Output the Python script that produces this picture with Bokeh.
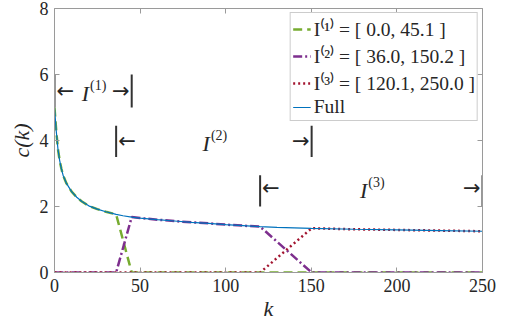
from bokeh.plotting import figure
from bokeh.models import LinearAxis, Legend, LegendItem, Range1d, FixedTicker, ColumnDataSource
from bokeh.core.properties import value
from bokeh.embed import file_html
from bokeh.resources import INLINE

# ---- data ----
x_ticks = [0, 50, 100, 150, 200, 250]
y_ticks = [0, 2, 4, 6, 8]

k_full = [0, 1, 2, 3, 4, 5, 7, 10, 13, 16, 20, 25, 30, 36, 40, 45, 50, 60, 70, 80, 90,
          100, 110, 120, 130, 140, 150, 175, 200, 225, 250]
c_full = [5.0, 4.3, 3.75, 3.4, 3.15, 2.95, 2.7, 2.45, 2.28, 2.15, 2.02, 1.92, 1.84, 1.76, 1.72,
          1.68, 1.65, 1.6, 1.56, 1.52, 1.49, 1.45, 1.42, 1.39, 1.37, 1.355, 1.34, 1.31, 1.29,
          1.27, 1.25]

k_i1 = [0, 1, 2, 3, 4, 5, 7, 10, 13, 16, 20, 25, 30, 36.0, 45.1, 250]
c_i1 = [5.0, 4.3, 3.75, 3.4, 3.15, 2.95, 2.7, 2.45, 2.28, 2.15, 2.02, 1.92, 1.84, 1.76, 0, 0]

k_i2 = [0, 36.0, 45.1, 50, 60, 70, 80, 90, 100, 110, 120.1, 150.2, 250]
c_i2 = [0, 0, 1.68, 1.65, 1.6, 1.56, 1.52, 1.49, 1.45, 1.42, 1.39, 0, 0]

k_i3 = [0, 120.1, 150.2, 175, 200, 225, 250]
c_i3 = [0, 0, 1.34, 1.31, 1.29, 1.27, 1.25]

bound_lo = [0.0, 36.0, 120.1]
bound_hi = [45.1, 150.2, 250.0]
bar_bottom = [5.0, 3.5, 2.0]
bar_top = [6.0, 4.45, 2.95]
label_y = [5.5, 3.98, 2.56]
sup = {"1": "¹", "2": "²", "3": "³"}
names = ["I⁽" + sup[str(i + 1)] + "⁾" for i in range(3)]

SERIF = "Liberation Serif"
GREY = "#9a9a9a"
TXT = "#262626"

p = figure(width=505, height=326, output_backend="svg", toolbar_location=None,
           x_range=Range1d(0, 250), y_range=Range1d(0, 8),
           min_border_left=54, min_border_right=23, min_border_top=8, min_border_bottom=54)
p.outline_line_color = None
p.grid.visible = False
p.background_fill_color = "white"
p.border_fill_color = "white"

def style_axis(ax, ticks, show_labels=True):
    ax.ticker = FixedTicker(ticks=ticks)
    ax.axis_line_color = GREY
    ax.major_tick_line_color = GREY
    ax.major_tick_in = 5
    ax.major_tick_out = 0
    ax.minor_tick_line_color = None
    ax.major_label_text_font = SERIF
    if show_labels:
        ax.major_label_text_font_size = "18px"
        ax.major_label_text_color = TXT
    else:
        ax.major_label_text_font_size = "1px"
        ax.major_label_text_color = None
        ax.major_label_standoff = 0

style_axis(p.xaxis[0], x_ticks)
style_axis(p.yaxis[0], y_ticks)
p.xaxis[0].major_label_standoff = 6
p.yaxis[0].major_label_standoff = 6
p.xaxis[0].axis_label = "k"
p.yaxis[0].axis_label = "c(k)"
for ax in (p.xaxis[0], p.yaxis[0]):
    ax.axis_label_text_font = SERIF
    ax.axis_label_text_font_style = "italic"
    ax.axis_label_text_font_size = "22px"
    ax.axis_label_text_color = TXT
p.xaxis[0].axis_label_standoff = 1
p.yaxis[0].axis_label_standoff = 3

top_ax = LinearAxis()
right_ax = LinearAxis()
style_axis(top_ax, x_ticks, False)
style_axis(right_ax, y_ticks, False)
p.add_layout(top_ax, "above")
p.add_layout(right_ax, "right")

# ---- lines ----
r1 = p.line(k_i1, c_i1, line_color="#77AC30", line_width=2.5, line_dash="9 5")
r2 = p.line(k_i2, c_i2, line_color="#7E2F8E", line_width=2.5, line_dash="9 3 2 3")
r3 = p.line(k_i3, c_i3, line_color="#A2142F", line_width=2.5, line_dash="2 3")
r4 = p.line(k_full, c_full, line_color="#0072BD", line_width=1.2)

# ---- interval brackets ----
src = ColumnDataSource(dict(lo=bound_lo, hi=bound_hi, y0=bar_bottom, y1=bar_top, ly=label_y,
                            mid=[(a + b) / 2 for a, b in zip(bound_lo, bound_hi)],
                            letter=["I"] * 3,
                            sup=["(%d)" % (i + 1) for i in range(3)],
                            la=["←"] * 3, ra=["→"] * 3))
p.segment(x0="lo", x1="lo", y0="y0", y1="y1", source=src, line_color="#333333", line_width=2)
p.segment(x0="hi", x1="hi", y0="y0", y1="y1", source=src, line_color="#333333", line_width=2)
p.text(x="mid", y="ly", text="letter", source=src, text_font=value(SERIF), text_font_style="italic",
       text_font_size="22px", text_align="right", text_baseline="middle", text_color=TXT,
       x_offset=-4, y_offset=2)
p.text(x="mid", y="ly", text="sup", source=src, text_font=value(SERIF),
       text_font_size="14px", text_align="left", text_baseline="middle", text_color=TXT,
       x_offset=-3, y_offset=-6)
p.text(x="lo", y="ly", text="la", source=src, text_font=value("DejaVu Sans"), text_font_size="21px",
       text_align="left", text_baseline="middle", text_color=TXT, x_offset=2)
p.text(x="hi", y="ly", text="ra", source=src, text_font=value("DejaVu Sans"), text_font_size="21px",
       text_align="right", text_baseline="middle", text_color=TXT, x_offset=-2)

# ---- legend ----
labels = [f"{names[i]} = [ {bound_lo[i]:.1f}, {bound_hi[i]:.1f} ]" for i in range(3)] + ["Full"]
legend = Legend(items=[LegendItem(label=labels[0], renderers=[r1]),
                       LegendItem(label=labels[1], renderers=[r2]),
                       LegendItem(label=labels[2], renderers=[r3]),
                       LegendItem(label=labels[3], renderers=[r4])],
                location="top_right")
legend.label_text_font = SERIF
legend.label_text_font_size = "19.5px"
legend.label_text_line_height = 1.0
legend.label_text_color = TXT
legend.glyph_width = 18
legend.glyph_height = 20
legend.label_height = 20
legend.label_standoff = 3
legend.spacing = 0
legend.padding = 2
legend.margin = 4
legend.border_line_color = GREY
legend.border_line_width = 1
legend.background_fill_alpha = 1
p.add_layout(legend)

open("out.html", "w").write(file_html(p, INLINE))
